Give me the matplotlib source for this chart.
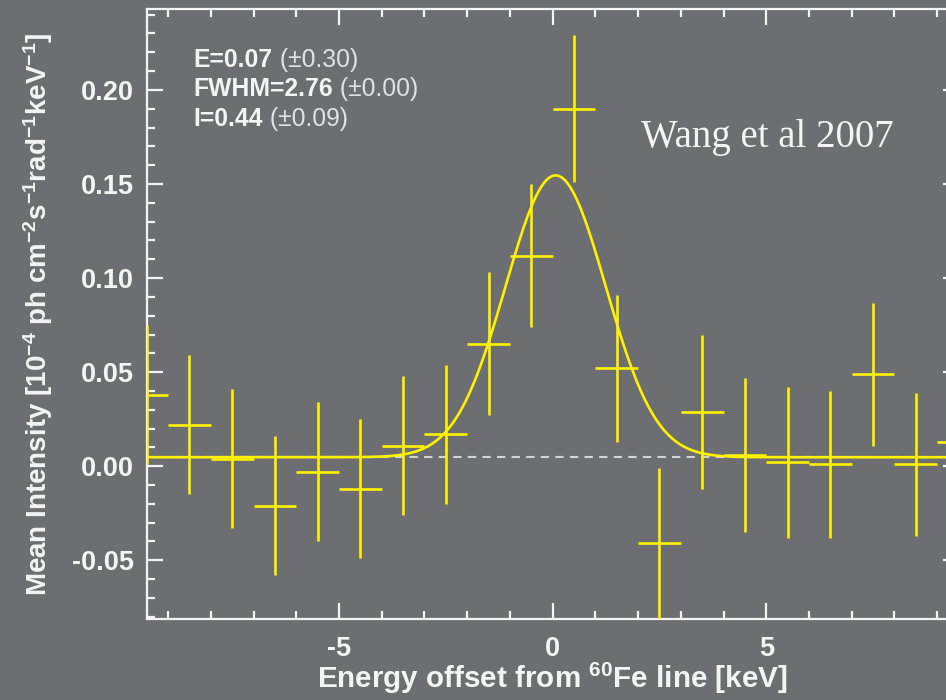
#!/usr/bin/env python

# Mean 60Fe line intensity spectrum with Gaussian fit (after Wang et al 2007).

import numpy
import matplotlib
from matplotlib.backends.backend_agg import FigureCanvasAgg as FigureCanvas
from matplotlib.figure import Figure
from matplotlib.ticker import MultipleLocator, FormatStrFormatter

# Binned spectrum: energy offset (keV), intensity and 1-sigma error
energy = [-9.5, -8.5, -7.5, -6.5, -5.5, -4.5, -3.5, -2.5, -1.5, -0.5,
          0.5, 1.5, 2.5, 3.5, 4.5, 5.5, 6.5, 7.5, 8.5, 9.5]
intensity = [0.038, 0.022, 0.004, -0.021, -0.003, -0.012, 0.011, 0.017, 0.065, 0.112,
             0.190, 0.052, -0.041, 0.029, 0.006, 0.002, 0.001, 0.049, 0.001, 0.013]
error = [0.037, 0.037, 0.037, 0.037, 0.037, 0.037, 0.037, 0.037, 0.038, 0.038,
         0.039, 0.039, 0.040, 0.041, 0.041, 0.040, 0.039, 0.038, 0.038, 0.038]
bin_half = 0.5

# Fit parameters (line centre, FWHM, integrated intensity) and continuum level
fit_E = 0.07
fit_FWHM = 2.76
fit_I = 0.44
baseline = 0.0048
fit_labels = [('E=0.07', ' (\u00b10.30)'),
              ('FWHM=2.76', ' (\u00b10.00)'),
              ('I=0.44', ' (\u00b10.09)')]

bg = '#6c6e72'
yellow = '#fff200'
white = '#f4f4f4'

matplotlib.rcParams['font.family'] = ['Liberation Sans', 'DejaVu Sans']
matplotlib.rcParams['mathtext.fontset'] = 'custom'
matplotlib.rcParams['mathtext.rm'] = 'Liberation Sans:bold'
matplotlib.rcParams['mathtext.bf'] = 'Liberation Sans:bold'
matplotlib.rcParams['mathtext.default'] = 'bf'
matplotlib.rcParams['axes.unicode_minus'] = False

fig = Figure(figsize=(9.46, 7.0), dpi=100, facecolor=bg)
canvas = FigureCanvas(fig)

# axes run off the right-hand edge, as in the cropped slide
ax = fig.add_axes([0.1551, 0.1157, 0.8582, 0.8714], facecolor=bg)
ax.set_xlim(-9.5, 9.5)
ax.set_ylim(-0.0812, 0.243)

for side in ax.spines:
    ax.spines[side].set_color(white)
    ax.spines[side].set_linewidth(1.6)

ax.xaxis.set_major_locator(MultipleLocator(5))
ax.xaxis.set_minor_locator(MultipleLocator(1))
ax.yaxis.set_major_locator(MultipleLocator(0.05))
ax.yaxis.set_minor_locator(MultipleLocator(0.01))
ax.yaxis.set_major_formatter(FormatStrFormatter('%.2f'))
ax.tick_params(which='both', direction='in', top=True, right=True,
               color=white, width=1.6, labelcolor=white, labelsize=19.5)
ax.tick_params(which='major', length=11.5)
ax.tick_params(which='minor', length=5.8)
ax.tick_params(axis='x', pad=12)
ax.tick_params(axis='y', pad=9)
for lab in ax.get_xticklabels() + ax.get_yticklabels():
    lab.set_fontweight('bold')

# continuum level
ax.hlines(baseline, -9.5, 9.5, colors='#d4d4d4', linestyles=(0, (4, 3)),
          linewidth=1.5, zorder=2)

# Gaussian fit
xx = numpy.linspace(-9.5, 9.5, 600)
sigma = fit_FWHM / (2.0 * numpy.sqrt(2.0 * numpy.log(2.0)))
model = baseline + fit_I / (sigma * numpy.sqrt(2 * numpy.pi)) * \
    numpy.exp(-0.5 * ((xx - fit_E) / sigma) ** 2)
ax.plot(xx, model, color=yellow, linewidth=1.9, zorder=3)

# data with energy bins and errors
ax.errorbar(energy, intensity, xerr=bin_half, yerr=error, fmt='none',
            ecolor=yellow, elinewidth=1.9, capsize=0, zorder=4)

# fit results
line_y = [0.917, 0.869, 0.820]
for (bold, rest), yy in zip(fit_labels, line_y):
    t1 = ax.text(0.0575, yy, bold, transform=ax.transAxes, color=white,
                 fontsize=17.8, fontweight='bold', va='center')
    ax.annotate(rest, xy=(1, 0), xycoords=t1, va='bottom', ha='left',
                color='#e2e2e2', fontsize=17.8)

ax.text(0.609, 0.7745, 'Wang et al 2007', transform=ax.transAxes,
        family=['Liberation Serif', 'DejaVu Serif'], fontsize=28,
        color=white, va='baseline')

ax.set_xlabel('Energy offset from $^{60}$Fe line [keV]', color=white,
              fontsize=21.3, fontweight='bold')
ax.xaxis.set_label_coords(0.5, -0.068)
ax.set_ylabel('Mean Intensity [10$^{-4}$ ph cm$^{-2}$s$^{-1}$rad$^{-1}$keV$^{-1}$]',
              color=white, fontsize=20, fontweight='bold')
ax.yaxis.set_label_coords(-0.113, 0.5)

fig.savefig('out.png', facecolor=bg)
